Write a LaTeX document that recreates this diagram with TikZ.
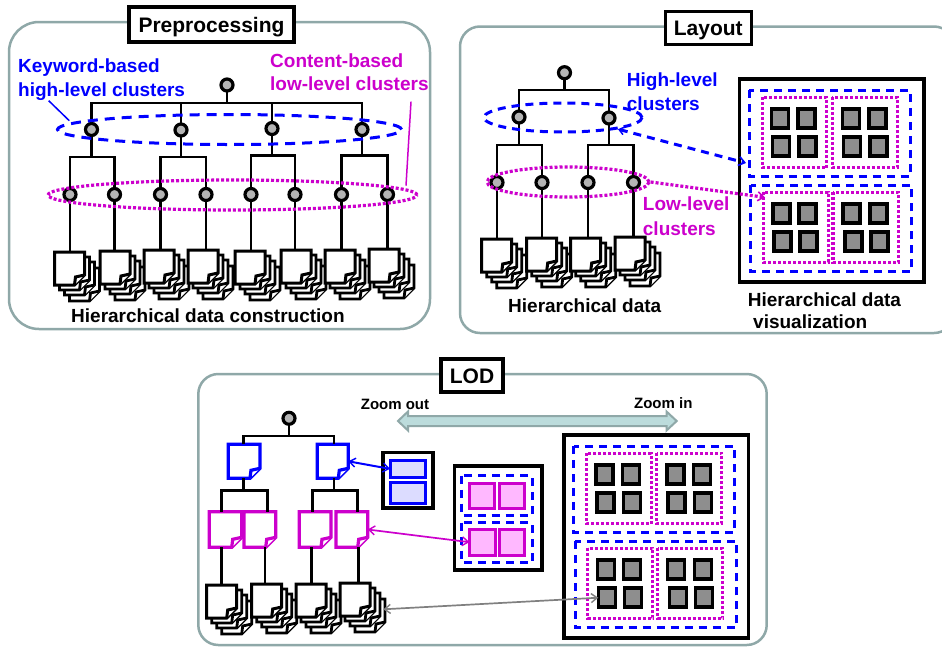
\documentclass[tikz,border=0pt]{standalone}
\usepackage{fontspec}
\setmainfont{Liberation Sans}
\usetikzlibrary{shapes.geometric,arrows.meta}
\definecolor{panelc}{HTML}{8FA8A8}
\definecolor{arrowf}{HTML}{BCDCDC}
\definecolor{mag}{HTML}{CC00CC}
\definecolor{blu}{HTML}{0000FF}
\definecolor{sqg}{HTML}{8E8E8E}
\definecolor{cirg}{HTML}{B4B4B4}
\definecolor{magf}{HTML}{FFB8FF}
\definecolor{bluf}{HTML}{DCDCFF}
\tikzset{
  panel/.style={draw=panelc,line width=2.5pt,fill=white},
  titlebox/.style={draw=black,line width=3.2pt,fill=white,inner sep=0pt,text height=15pt,text depth=0pt,font=\bfseries\fontsize{21}{21}\selectfont},
  lab/.style={inner sep=0pt,anchor=base west,font=\bfseries\fontsize{#1}{#1}\selectfont},
  lab/.default=19,
  treeline/.style={draw=black,line width=2.9pt},
  tnode/.style={circle,draw=black,fill=cirg,line width=3.2pt,minimum size=12pt,inner sep=0pt,outer sep=0pt},
  dashb/.style={draw=blu,line width=3pt,dash pattern=on 8pt off 6pt},
  dotm/.style={draw=mag,line width=3.2pt,dash pattern=on 3pt off 2pt},
  hull/.style={ellipse,inner sep=0pt,minimum width=#1},
  docbase/.style={inner sep=0pt,outer sep=0pt,anchor=north west},
  bigbox/.style={draw=black,line width=3.6pt},
  sqnode/.style={draw=black,fill=sqg,line width=3.5pt,minimum width=17pt,minimum height=19pt,inner sep=0pt,outer sep=0pt},
  rectnode/.style={inner sep=0pt,outer sep=0pt,anchor=north west},
  visgrid/.pic={
    \draw[bigbox,fill=white] (739.5,79) rectangle (924,281.7);
    \draw[dashb] (749.3,90) rectangle (910,176.7);
    \draw[dashb] (750.7,185) rectangle (911.7,271.7);
    \draw[dotm] (762.3,97.3) rectangle (826.7,167.7);
    \draw[dotm] (832.3,97.3) rectangle (897.3,167.7);
    \draw[dotm] (763.3,192.3) rectangle (828.3,262.3);
    \draw[dotm] (833,192.3) rectangle (898.3,262.3);
    \foreach \n/\x/\y in {1/780/118.3,2/806.7/118.3,3/781/146.7,4/807.3/146.7,
      5/851/118.3,6/877.3/118.3,7/852/146.7,8/878.3/146.7,
      9/781.7/213.3,10/807.3/213.3,11/782.3/241.7,12/808.3/241.7,
      13/851.7/213.3,14/878.3/213.3,15/853.3/241.7,16/879.3/241.7}
      \node[sqnode] (s\n) at (\x,\y) {};
  }
}
% one page with folded corner: name, x, y, width, height, colour, line width
\newcommand{\onedoc}[7]{%
  \node[docbase,minimum width=#4pt,minimum height=#5pt] (#1) at (#2,#3) {};
  \draw[draw=#6,line width=#7pt,fill=white,line join=miter]
    (#1.north west) -- (#1.north east) -- ([yshift=10pt]#1.south east)
    -- ([xshift=-10pt]#1.south east) -- (#1.south west) -- cycle;
  \draw[draw=#6,line width=#7pt,fill=white]
    ([xshift=-10pt]#1.south east) -- ([xshift=-9pt,yshift=8pt]#1.south east)
    -- ([yshift=10pt]#1.south east);
}
\newcommand{\docstack}[3]{%
  \onedoc{#1c}{#2+15}{#3+16}{30}{33}{black}{2.8}
  \onedoc{#1b}{#2+10}{#3+10}{30}{33}{black}{2.8}
  \onedoc{#1a}{#2+5}{#3+5}{30}{33}{black}{2.8}
  \onedoc{#1}{#2}{#3}{30}{33}{black}{3}
}
\begin{document}
\begin{tikzpicture}[x=1pt,y=-1pt]
\useasboundingbox (0,0) rectangle (942,646);
\clip (0,0) rectangle (942,646);
% ---------- panels
\draw[panel,rounded corners=30pt] (9,22) rectangle (430,329);
\draw[panel,rounded corners=20pt] (460,26.5) rectangle (954,333);
\draw[panel,rounded corners=20pt] (198.3,374) rectangle (766.7,645);
\node[titlebox,minimum width=165pt,minimum height=35pt] (tp) at (211.5,24.5) {Preprocessing};
\node[titlebox,minimum width=86pt,minimum height=33pt] (tl) at (708.3,28.3) {Layout};
\node[titlebox,minimum width=62pt,minimum height=33pt] (to) at (472,375.5) {LOD};

% ---------- Preprocessing
\node[tnode] (pr) at (227,85) {};
\foreach \n/\x/\y in {1/91.5/129.5,2/181/130,3/272/128.5,4/362/129.5}
  \node[tnode] (ph\n) at (\x,\y) {};
\foreach \n/\x in {1/70,2/114.5,3/160.5,4/206,5/251,6/295,7/341.5,8/387.5}
  \node[tnode] (pl\n) at (\x,194.5) {};
\foreach \n/\x/\y in {1/54.5/252,2/100/251,3/144/250,4/188/250,5/235/251,6/281/250,7/325/250,8/369/249}
  {\docstack{pd\n}{\x}{\y}}
\coordinate (pbus) at (227,103);
\draw[treeline] (pr) -- (pbus);
\draw[treeline] (ph1) |- (pbus) -| (ph4);
\draw[treeline] (ph2) -- (ph2 |- pbus);
\draw[treeline] (ph3) -- (ph3 |- pbus);
\coordinate (pb1) at (91.5,157); \coordinate (pb2) at (181,157);
\coordinate (pb3) at (272,155.5); \coordinate (pb4) at (362,155.5);
\draw[treeline] (ph1) -- (pb1); \draw[treeline] (pl1) |- (pb1) -| (pl2);
\draw[treeline] (ph2) -- (pb2); \draw[treeline] (pl3) |- (pb2) -| (pl4);
\draw[treeline] (ph3) -- (pb3); \draw[treeline] (pl5) |- (pb3) -| (pl6);
\draw[treeline] (ph4) -- (pb4); \draw[treeline] (pl7) |- (pb4) -| (pl8);
\foreach \n in {1,...,8} \draw[treeline] (pl\n) -- (pl\n |- pd\n.north);
\node[hull=344pt,minimum height=30pt,dashb,dash pattern=on 10pt off 7pt] (pe1) at (229.5,129.5) {};
\node[hull=369pt,minimum height=30pt,dotm] (pe2) at (232.5,195) {};
\node[lab,text=blu] (pt1) at (18,72.7) {Keyword-based};
\node[lab,text=blu] (pt2) at (18,96) {high-level clusters};
\node[lab,text=mag] (pt3) at (270,67.7) {Content-based};
\node[lab,text=mag] (pt4) at (270,90) {low-level clusters};
\coordinate (pc1) at (48.7,100.7); \coordinate (pc2) at (69.3,120.7);
\draw[draw=blu,line width=1.5pt] (pc1) -- (pc2);
\coordinate (pc3) at (411,101.7); \coordinate (pc4) at (406,185.7);
\draw[draw=mag,line width=1.5pt] (pc3) -- (pc4);
\node[lab] (pt5) at (71,322.7) {Hierarchical data construction};

% ---------- Layout
\node[tnode] (lr) at (564.5,72.7) {};
\node[tnode] (lh1) at (519,117) {};
\node[tnode] (lh2) at (609,118) {};
\foreach \n/\x in {1/497,2/542,3/588,4/633.5}
  \node[tnode] (ll\n) at (\x,182.5) {};
\foreach \n/\x/\y in {1/481.7/239,2/526.7/238,3/570.7/238,4/615/237}
  {\docstack{ld\n}{\x}{\y}}
\coordinate (lbus) at (564.5,90);
\draw[treeline] (lr) -- (lbus);
\draw[treeline] (lh1) |- (lbus) -| (lh2);
\coordinate (lb1) at (519,145); \coordinate (lb2) at (609,145);
\draw[treeline] (lh1) -- (lb1); \draw[treeline] (ll1) |- (lb1) -| (ll2);
\draw[treeline] (lh2) -- (lb2); \draw[treeline] (ll3) |- (lb2) -| (ll4);
\foreach \n in {1,...,4} \draw[treeline] (ll\n) -- (ll\n |- ld\n.north);
\node[hull=158pt,minimum height=29pt,dashb] (le1) at (563,117.5) {};
\node[hull=162pt,minimum height=30pt,dotm] (le2) at (568,182) {};
\pic (v) at (0,0) {visgrid};
\coordinate (lc1) at (746,163);
\coordinate (lc2) at (765,197.3);
\draw[dashb,{Straight Barb[length=5pt,width=8pt,line width=1.5pt]}-{Straight Barb[length=6pt,width=9pt,line width=1.6pt]}] (le1.-12) -- (lc1);
\draw[dotm,-{Straight Barb[length=6pt,width=9pt,line width=1.6pt]}] (le2.east) -- (lc2);
\node[lab,text=blu] (lt1) at (626.7,86.7) {High-level};
\node[lab,text=blu] (lt2) at (626.7,110) {clusters};
\node[lab,text=mag] (lt3) at (642.7,210.7) {Low-level};
\node[lab,text=mag] (lt4) at (642.7,235) {clusters};
\node[lab] (lt5) at (508,312.7) {Hierarchical data};
\node[lab] (lt6) at (747.7,306) {Hierarchical data};
\node[lab] (lt7) at (753,328.3) {visualization};

% ---------- LOD
\draw[draw=panelc,line width=2pt,fill=arrowf,line join=miter]
  (408,416) -- (408,411.5) -- (398,421) -- (408,430.5) -- (408,426)
  -- (666.5,426) -- (666.5,430.5) -- (676.7,421) -- (666.5,411.5) -- (666.5,416) -- cycle;
\node[lab=15,anchor=base] (ot1) at (395,409) {Zoom out};
\node[lab=15,anchor=base] (ot2) at (663.3,408.3) {Zoom in};

\node[tnode] (or) at (289,418.3) {};
\onedoc{ob1}{228.3}{444.3}{31.7}{34}{blu}{3.2}
\onedoc{ob2}{317.3}{444.3}{31}{34}{blu}{3.2}
\onedoc{om1}{209.3}{511.7}{32.4}{35.6}{mag}{3.2}
\onedoc{om2}{244}{511.7}{31.7}{35.6}{mag}{3.2}
\onedoc{om3}{299.3}{511.7}{31.7}{35.6}{mag}{3.2}
\onedoc{om4}{336}{511.7}{31.7}{35.6}{mag}{3.2}
\foreach \n/\x/\y in {1/206.7/585,2/251.7/584,3/296/584,4/340/583}
  {\docstack{od\n}{\x}{\y}}
\coordinate (obus) at (289,436);
\draw[treeline] (or) -- (obus);
\coordinate (ob1t) at (243.3,444.3); \coordinate (ob2t) at (334,444.3);
\draw[treeline] (ob1t) |- (obus) -| (ob2t);
\coordinate (ob1b) at (243.3,490.7); \coordinate (ob2b) at (334,490.7);
\draw[treeline] (ob1b |- ob1.south) -- (ob1b);
\draw[treeline] (ob2b |- ob2.south) -- (ob2b);
\coordinate (om1t) at (221.7,511.7); \coordinate (om2t) at (267.3,511.7);
\coordinate (om3t) at (312.3,511.7); \coordinate (om4t) at (357.7,511.7);
\draw[treeline] (om1t) |- (ob1b) -| (om2t);
\draw[treeline] (om3t) |- (ob2b) -| (om4t);
\coordinate (ol1) at (221.7,547.3); \coordinate (ol2) at (265,547.3);
\coordinate (ol3) at (311.7,547.3); \coordinate (ol4) at (358.3,547.3);
\foreach \n in {1,...,4} \draw[treeline] (ol\n) -- (ol\n |- od\n.north);

% small overview box
\draw[bigbox,fill=white] (382.7,452.3) rectangle (432.7,507.7);
\node[rectnode,draw=blu,fill=bluf,line width=3pt,minimum width=35.7pt,minimum height=17.7pt] (ox1) at (390,460) {};
\node[rectnode,draw=blu,fill=bluf,line width=3pt,minimum width=35.7pt,minimum height=20.6pt] (ox2) at (390,482.7) {};
% medium box
\draw[bigbox,fill=white] (454.3,465.7) rectangle (541.7,570);
\draw[dashb] (461,475.7) rectangle (532.3,515);
\draw[dashb] (461.7,522.7) rectangle (532.3,562.3);
\node[rectnode,draw=mag,fill=magf,line width=3pt,minimum width=24.7pt,minimum height=25pt] (oy1) at (469.3,483.3) {};
\node[rectnode,draw=mag,fill=magf,line width=3pt,minimum width=25pt,minimum height=25pt] (oy2) at (499.3,483.3) {};
\node[rectnode,draw=mag,fill=magf,line width=3pt,minimum width=25.7pt,minimum height=25.7pt] (oy3) at (469.3,529.3) {};
\node[rectnode,draw=mag,fill=magf,line width=3pt,minimum width=25pt,minimum height=25.7pt] (oy4) at (499.3,529.3) {};
% large box
\pic (w) at (-175.5,356) {visgrid};
% links
\draw[draw=blu,line width=2pt,{Straight Barb[length=6pt,width=9pt,line width=1.4pt]}-{Straight Barb[length=6pt,width=9pt,line width=1.4pt]}] (ob2.east) -- (ox1.west);
\draw[draw=mag,line width=1.7pt,{Straight Barb[length=6pt,width=9pt,line width=1.4pt]}-{Straight Barb[length=6pt,width=9pt,line width=1.4pt]}] (om4.east) -- (oy3.west);
\coordinate (gs) at (383.3,609.3);
\draw[draw=gray,line width=1.7pt,{Straight Barb[length=6pt,width=9pt,line width=1.4pt]}-{Straight Barb[length=6pt,width=9pt,line width=1.4pt]}] (gs) -- (ws11.west);
\end{tikzpicture}
\end{document}
